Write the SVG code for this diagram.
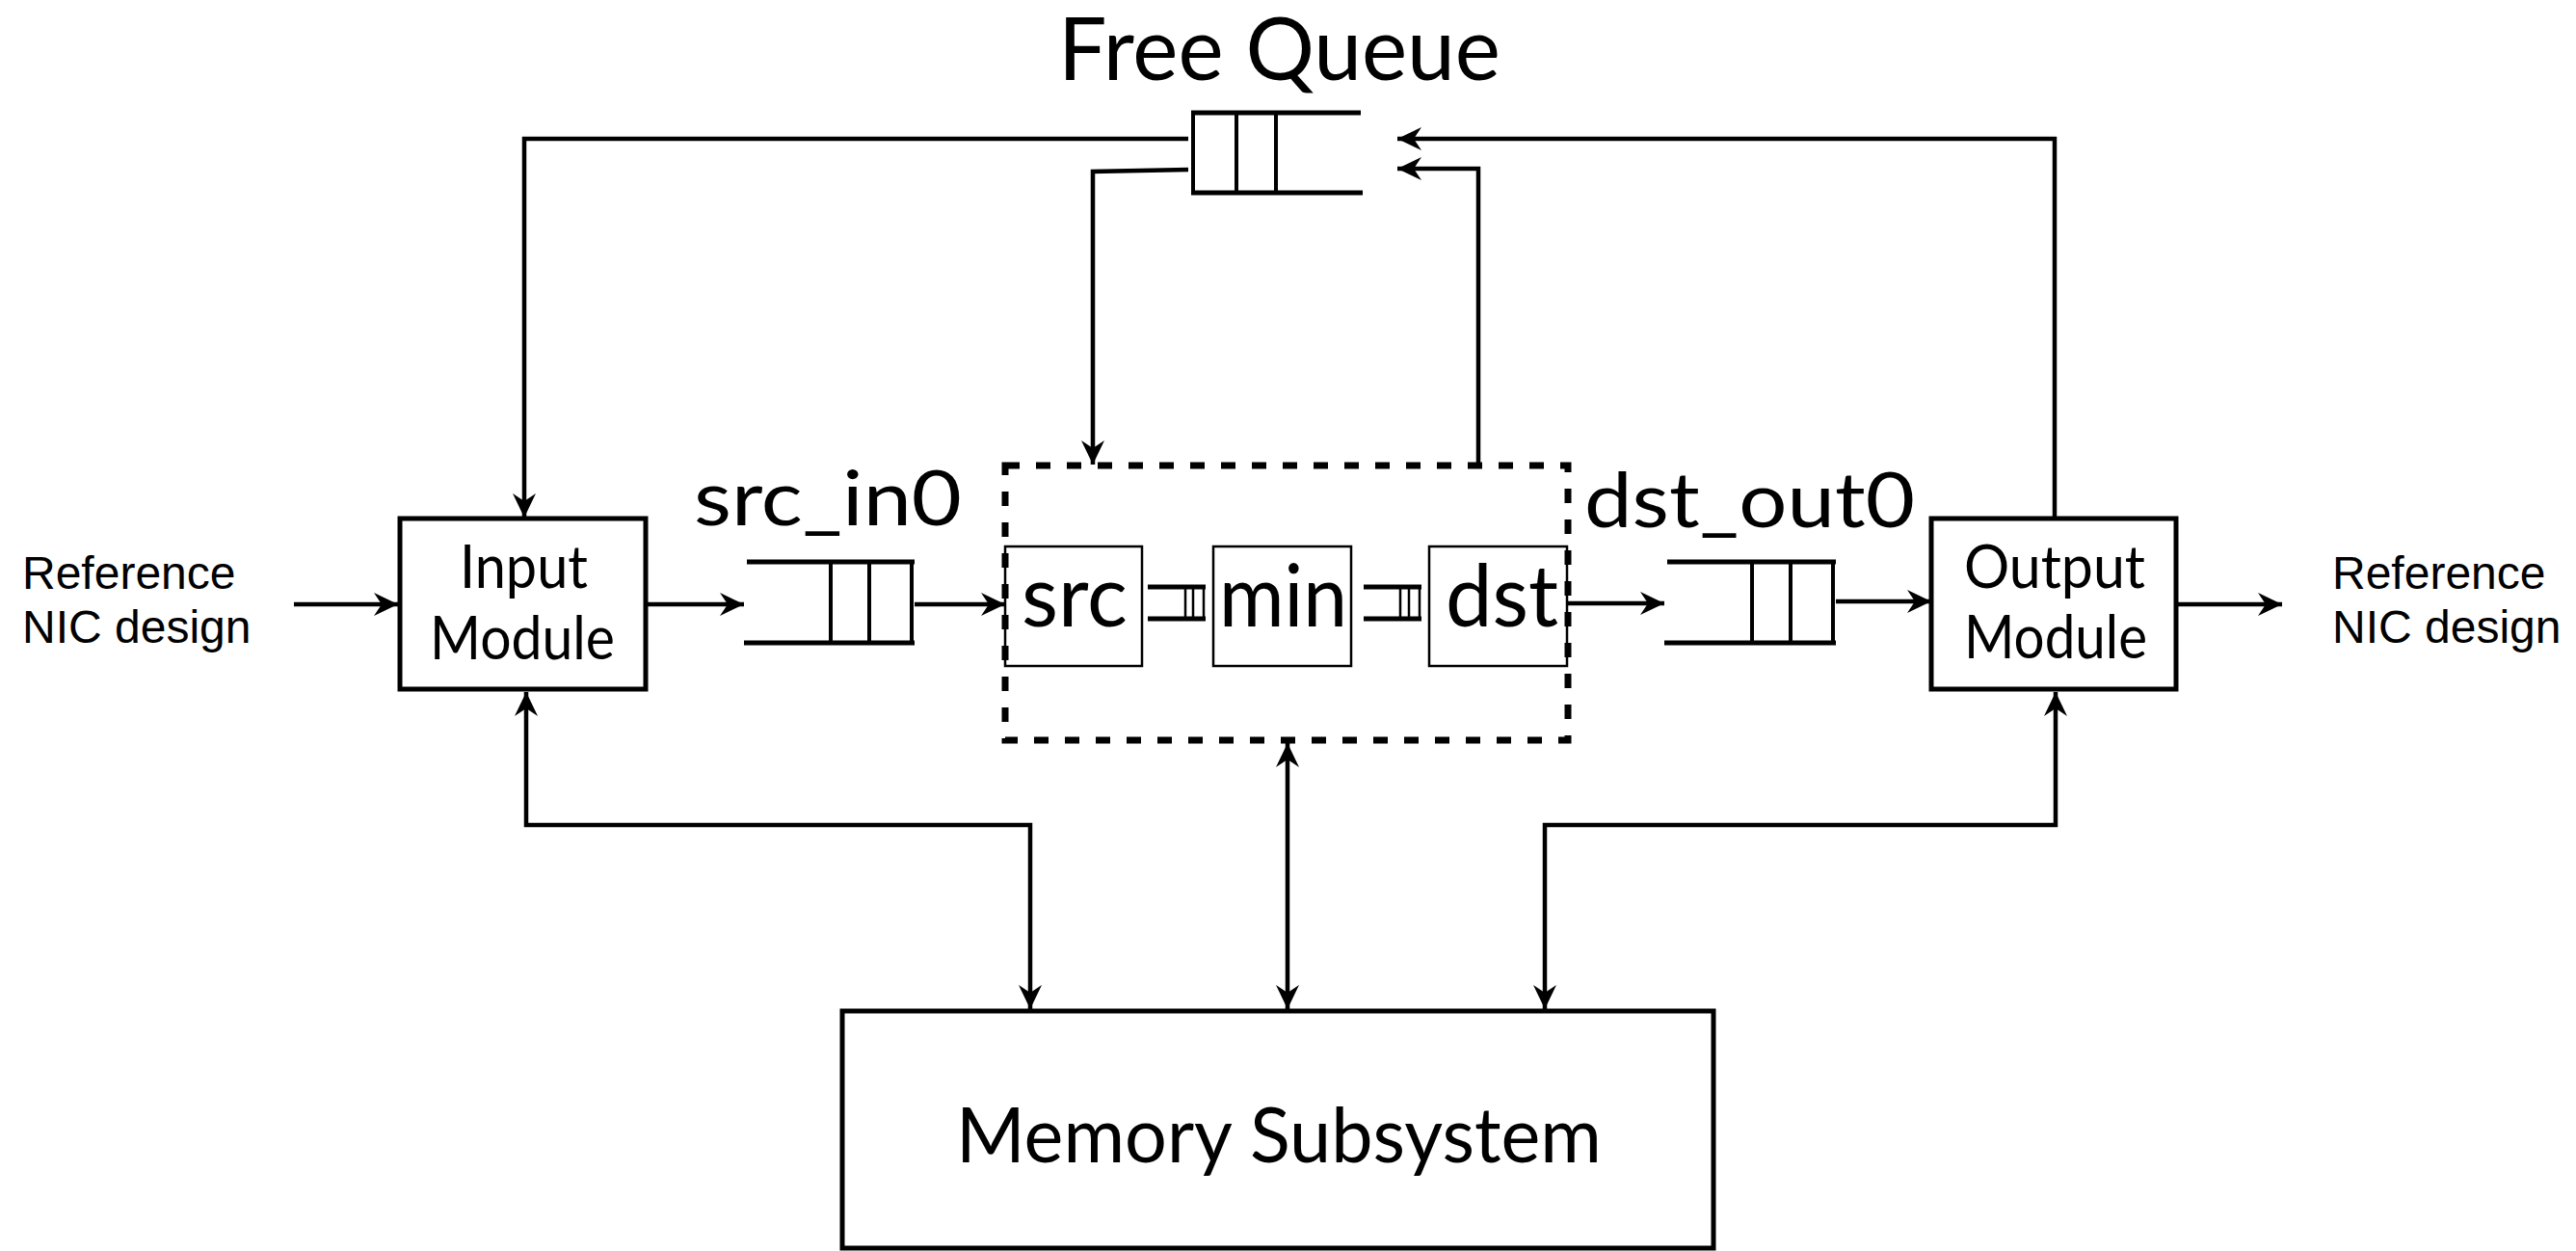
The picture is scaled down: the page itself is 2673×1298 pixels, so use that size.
<svg xmlns="http://www.w3.org/2000/svg" width="2673" height="1298" viewBox="0 0 2673 1298">
  <style>
    .gill { font-family: Lato, "Open Sans", "Noto Sans", sans-serif; fill: #000; }
    .arial { font-family: "Liberation Sans", Arial, sans-serif; font-size: 48px; fill: #000; }
    .box { fill: #fff; stroke: #000; stroke-width: 5; }
    .stage { fill: #fff; stroke: #000; stroke-width: 2.5; }
    .qh { fill: none; stroke: #000; stroke-width: 5; }
    .qv { fill: none; stroke: #000; stroke-width: 4; }
    .qvs { fill: none; stroke: #000; stroke-width: 2.5; }
    .wire { fill: none; stroke: #000; stroke-width: 4.5; }
    .dash { fill: none; stroke: #000; stroke-width: 7; stroke-dasharray: 15 17; }
  </style>
  <defs>
    <marker id="arrow" viewBox="-26 -13 27 26" markerWidth="27" markerHeight="26" refX="0" refY="0" markerUnits="userSpaceOnUse" orient="auto-start-reverse">
      <path d="M0,0 L-25,-12 L-17,0 L-25,12 Z" fill="#000"/>
    </marker>
  </defs>

  <rect width="2673" height="1298" fill="#fff"/>

  <!-- Free Queue -->
  <g id="free-queue">
    <text class="gill" x="1098" y="83" font-size="92" textLength="459" lengthAdjust="spacingAndGlyphs">Free Queue</text>
    <path class="qh" d="M1412,117 H1236 M1414,200 H1236"/>
    <path class="qv" d="M1238,117 V200 M1283,117 V200 M1324,117 V200"/>
  </g>

  <!-- Left side source label -->
  <g id="nic-in">
    <text class="arial" x="23" y="611">Reference</text>
    <text class="arial" x="23" y="667">NIC design</text>
  </g>

  <!-- Input Module -->
  <g id="input-module">
    <rect class="box" x="415" y="538" width="255" height="177"/>
    <text class="gill" x="477" y="610" font-size="62" textLength="133" lengthAdjust="spacingAndGlyphs">Input</text>
    <text class="gill" x="446" y="684" font-size="62" textLength="192" lengthAdjust="spacingAndGlyphs">Module</text>
  </g>

  <!-- src_in0 queue -->
  <g id="src-in0">
    <text class="gill" x="720" y="545" font-size="80" textLength="278" lengthAdjust="spacingAndGlyphs">src_in0</text>
    <path class="qh" d="M775,583 H949 M772,667 H949"/>
    <path class="qv" d="M862,583 V667 M902,583 V667 M946,583 V667"/>
  </g>

  <!-- Pipeline: src, min, dst stages inside dashed boundary -->
  <g id="pipeline">
    <rect class="stage" x="1043" y="567" width="142" height="124"/>
    <rect class="stage" x="1259" y="567" width="143" height="124"/>
    <rect class="stage" x="1483" y="567" width="143" height="124"/>
    <text class="gill" x="1060" y="650" font-size="90" textLength="110" lengthAdjust="spacingAndGlyphs">src</text>
    <text class="gill" x="1265" y="650" font-size="90" textLength="133" lengthAdjust="spacingAndGlyphs">min</text>
    <text class="gill" x="1500" y="650" font-size="90" textLength="117" lengthAdjust="spacingAndGlyphs">dst</text>
    <!-- small queues between stages -->
    <path class="qh" d="M1191,609 H1251 M1191,642 H1251"/>
    <path class="qvs" d="M1230,609 V642 M1238,609 V642 M1249,609 V642"/>
    <path class="qh" d="M1415,609 H1475 M1415,642 H1475"/>
    <path class="qvs" d="M1453,609 V642 M1462,609 V642 M1473,609 V642"/>
    <rect class="dash" x="1043" y="483" width="584" height="285"/>
  </g>

  <!-- dst_out0 queue -->
  <g id="dst-out0">
    <text class="gill" x="1644" y="547" font-size="80" textLength="343" lengthAdjust="spacingAndGlyphs">dst_out0</text>
    <path class="qh" d="M1730,583 H1905 M1727,667 H1905"/>
    <path class="qv" d="M1818,583 V667 M1858,583 V667 M1902,583 V667"/>
  </g>

  <!-- Output Module -->
  <g id="output-module">
    <rect class="box" x="2004" y="538" width="254" height="177"/>
    <text class="gill" x="2038" y="610" font-size="62" textLength="188" lengthAdjust="spacingAndGlyphs">Output</text>
    <text class="gill" x="2038" y="683" font-size="62" textLength="190" lengthAdjust="spacingAndGlyphs">Module</text>
  </g>

  <!-- Right side sink label -->
  <g id="nic-out">
    <text class="arial" x="2420" y="611">Reference</text>
    <text class="arial" x="2420" y="667">NIC design</text>
  </g>

  <!-- Memory Subsystem -->
  <g id="memory">
    <rect class="box" x="874" y="1049" width="904" height="246" stroke-width="4.5"/>
    <text class="gill" x="992" y="1206" font-size="80" textLength="670" lengthAdjust="spacingAndGlyphs">Memory Subsystem</text>
  </g>

  <!-- Connectors -->
  <g id="connectors">
    <!-- data path -->
    <path class="wire" d="M305,627 H413" marker-end="url(#arrow)"/>
    <path class="wire" d="M670,627 H772" marker-end="url(#arrow)"/>
    <path class="wire" d="M949,627 H1043" marker-end="url(#arrow)"/>
    <path class="wire" d="M1626,626 H1727" marker-end="url(#arrow)"/>
    <path class="wire" d="M1905,624 H2004" marker-end="url(#arrow)"/>
    <path class="wire" d="M2258,627 H2368" marker-end="url(#arrow)"/>
    <!-- free queue loops -->
    <path class="wire" d="M1233,144 H544 V537" marker-end="url(#arrow)"/>
    <path class="wire" d="M1233,176 L1134,178 V482" marker-end="url(#arrow)"/>
    <path class="wire" d="M1534,481 V175 H1450" marker-end="url(#arrow)"/>
    <path class="wire" d="M2132,537 V144 H1450" marker-end="url(#arrow)"/>
    <!-- memory buses -->
    <path class="wire" d="M546,718 V856 H1069 V1047" marker-start="url(#arrow)" marker-end="url(#arrow)"/>
    <path class="wire" d="M1336,771 V1047" marker-start="url(#arrow)" marker-end="url(#arrow)"/>
    <path class="wire" d="M1603,1047 V856 H2133 V718" marker-start="url(#arrow)" marker-end="url(#arrow)"/>
  </g>
</svg>
